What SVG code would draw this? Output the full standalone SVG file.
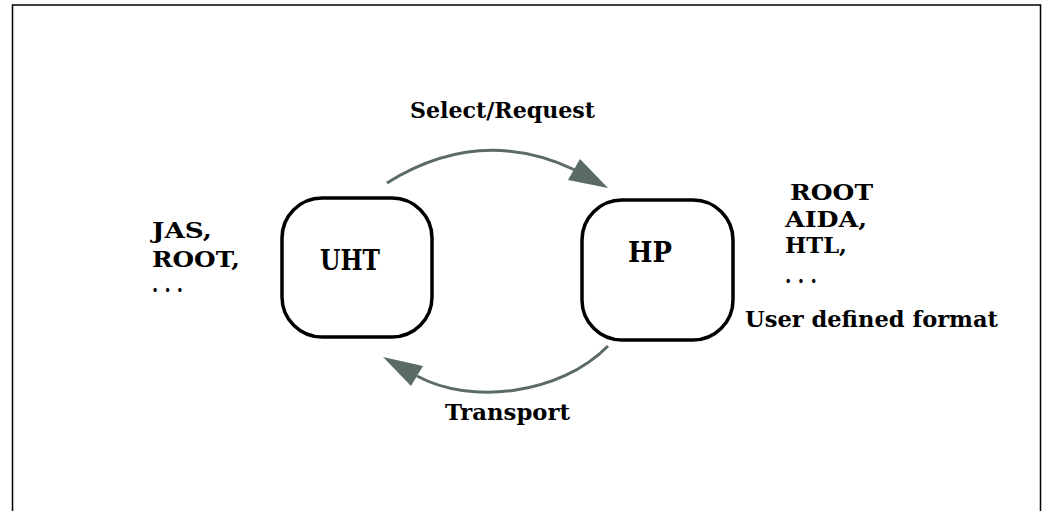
<svg xmlns="http://www.w3.org/2000/svg" width="1047" height="511" viewBox="0 0 1047 511">
  <style>
    .frame { fill: none; stroke: #000; stroke-width: 1.5; }
    .node { fill: #fff; stroke: #000; stroke-width: 3.5; }
    .flow { fill: none; stroke: #5b6c65; stroke-width: 3; }
    .head { fill: #5b6c65; }
    text { font-family: "DejaVu Serif", "Liberation Serif", serif; font-weight: bold; fill: #000; }
    .big { font-size: 27px; }
    .lbl { font-size: 22px; }
  </style>
  <rect width="1047" height="511" fill="#fff"/>
  <!-- open frame: left, top and right edges -->
  <path class="frame" d="M12.5,515 V5 H1040.5 V515"/>

  <g id="connectors">
    <path class="flow" d="M387,183 Q480,125 575,170"/>
    <polygon class="head" points="608,188 580,159 568,180"/>
    <path class="flow" d="M608,346 C560,395 470,405 417,376"/>
    <polygon class="head" points="383,357 423,366 411,386"/>
  </g>

  <g id="uht">
    <rect class="node" x="282" y="198" width="150" height="139" rx="40"/>
    <text class="big" x="320" y="270" textLength="60" lengthAdjust="spacingAndGlyphs">UHT</text>
  </g>

  <g id="hp">
    <rect class="node" x="582" y="200" width="151" height="140" rx="40"/>
    <text class="big" x="628" y="262" textLength="44" lengthAdjust="spacingAndGlyphs">HP</text>
  </g>

  <g id="label-select">
    <text class="lbl" x="410" y="118" textLength="185" lengthAdjust="spacingAndGlyphs">Select/Request</text>
  </g>
  <g id="label-transport">
    <text class="lbl" x="445" y="420" textLength="125" lengthAdjust="spacingAndGlyphs">Transport</text>
  </g>

  <g id="client-formats">
    <text class="lbl" x="152" y="238" textLength="60" lengthAdjust="spacingAndGlyphs">JAS,</text>
    <text class="lbl" x="152" y="267" textLength="88" lengthAdjust="spacingAndGlyphs">ROOT,</text>
    <text class="lbl" x="152" y="292" textLength="31" lengthAdjust="spacingAndGlyphs">. . .</text>
  </g>

  <g id="server-formats">
    <text class="lbl" x="790" y="200" textLength="83" lengthAdjust="spacingAndGlyphs">ROOT</text>
    <text class="lbl" x="785" y="227" textLength="82" lengthAdjust="spacingAndGlyphs">AIDA,</text>
    <text class="lbl" x="785" y="253" textLength="62" lengthAdjust="spacingAndGlyphs">HTL,</text>
    <text class="lbl" x="785" y="283" textLength="32" lengthAdjust="spacingAndGlyphs">. . .</text>
    <text class="lbl" x="745" y="327" textLength="253" lengthAdjust="spacingAndGlyphs">User defined format</text>
  </g>
</svg>
